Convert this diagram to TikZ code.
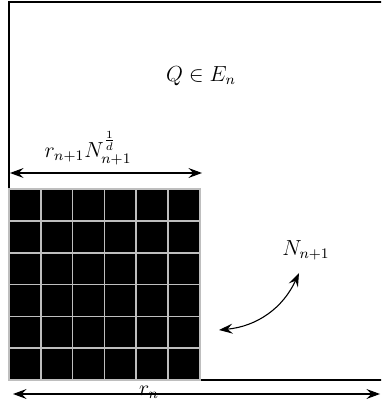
\documentclass[tikz,border=0pt]{standalone}
\usepackage{tikz}
\usetikzlibrary{arrows.meta, positioning}
\usepackage{amsmath}
\definecolor{GridGray}{RGB}{190,190,190}

\begin{document}
\begin{tikzpicture}[x=0.55pt, y=0.55pt,
          cell/.style={fill=black, draw=GridGray, line width=0.8pt},
          dimarr/.style={{Stealth[length=7.5pt, width=5.5pt, inset=2.8pt]}-{Stealth[length=7.5pt, width=5.5pt, inset=2.8pt]},
                         draw=black, semithick},
          lbl/.style={font=\fontsize{11.5}{13}\selectfont, inner sep=1pt}
        ]
        \useasboundingbox (0,0) rectangle (381,407);
        \clip (0,0) rectangle (381,407);

        % Set E_n (outer box, runs off to the right)
        \draw[line width=1pt] (9,27) rectangle (420,405);

        % Grid of cells
        \foreach \i in {0,...,5} {
          \foreach \j in {0,...,5} {
            \draw[cell] (9+31.8*\i, 27+31.8*\j) rectangle ++(31.8,31.8);
          }
        }

        % Labels
        \node[lbl] (q) at (201,331) {$Q \in E_n$};
        \node[lbl] (side) at (88,259) {$r_{n+1}N_{n+1}^{\frac{1}{d}}$};
        \node[lbl] (cnt) at (306,157) {$N_{n+1}$};

        % Dimension arrows
        \coordinate (tl) at (10,234);
        \coordinate (tr) at (202,234);
        \draw[dimarr] (tl) -- (tr);

        \coordinate (bl) at (13,13);
        \coordinate (br) at (380,13);
        \draw[dimarr] (bl) -- (br);
        \node[lbl] (rn) at (149,15) {$r_n$};

        % Curved arrow towards grid
        \coordinate (cb) at (299,134);
        \coordinate (ca) at (219,77);
        \draw[dimarr] (cb) to[bend left=30] (ca);
      \end{tikzpicture}
\end{document}
